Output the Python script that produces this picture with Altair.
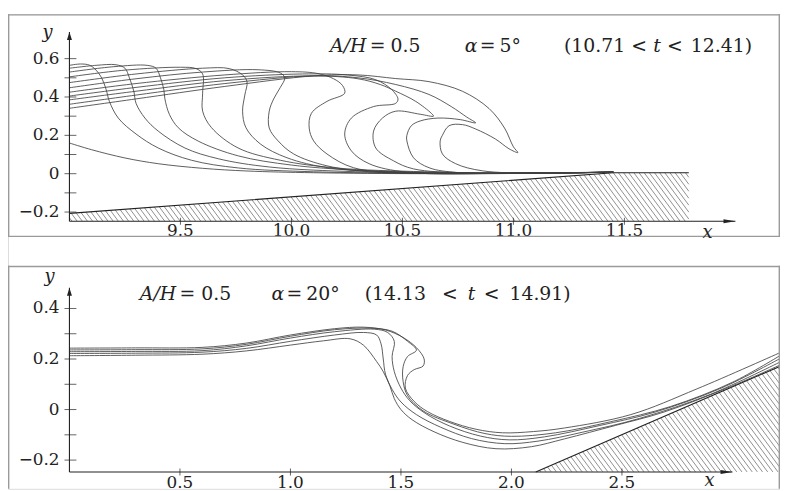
import altair as alt
import numpy as np
import pandas as pd

# ---------------- data: upper panel (alpha = 5 deg) ----------------
T0 = [(9.0,0.16),(9.1,0.125),(9.25,0.082),(9.4,0.052),(9.6,0.028),(9.8,0.014),(10.1,0.005),(10.6,0.0),(11.1,0.002),(11.45,0.008)]
T1 = [(9.0,0.565),(9.05,0.572),(9.09,0.566),(9.12,0.54),(9.145,0.5),(9.165,0.44),(9.18,0.377),(9.22,0.29),(9.3,0.207),(9.4,0.134),(9.55,0.07),(9.76,0.03),(10.1,0.01),(10.7,0.002),(11.45,0.008)]
T2 = [(9.0,0.55),(9.12,0.565),(9.21,0.568),(9.25,0.55),(9.27,0.5),(9.29,0.43),(9.3,0.367),(9.34,0.29),(9.4,0.222),(9.52,0.134),(9.67,0.078),(9.9,0.035),(10.3,0.01),(10.9,0.002),(11.45,0.008)]
T3 = [(9.0,0.53),(9.2,0.558),(9.35,0.565),(9.39,0.55),(9.41,0.5),(9.425,0.44),(9.43,0.39),(9.45,0.31),(9.49,0.24),(9.58,0.17),(9.76,0.093),(10.0,0.045),(10.3,0.018),(10.8,0.004),(11.45,0.008)]
T4 = [(9.0,0.505),(9.25,0.54),(9.5,0.555),(9.57,0.548),(9.6,0.52),(9.6,0.42),(9.6,0.326),(9.64,0.24),(9.76,0.134),(9.95,0.07),(10.2,0.03),(10.6,0.01),(11.0,0.003),(11.45,0.008)]
T5 = [(9.0,0.475),(9.3,0.52),(9.6,0.55),(9.72,0.548),(9.78,0.515),(9.8,0.48),(9.79,0.41),(9.78,0.326),(9.795,0.24),(9.86,0.155),(9.98,0.083),(10.17,0.03),(10.5,0.008),(11.0,0.002),(11.45,0.008)]
T6 = [(9.0,0.448),(9.3,0.495),(9.6,0.53),(9.85,0.542),(9.95,0.525),(9.97,0.5),(9.95,0.45),(9.92,0.39),(9.9,0.326),(9.9,0.238),(9.94,0.171),(10.01,0.103),(10.16,0.041),(10.38,0.008),(10.9,0.002),(11.45,0.008)]
T7 = [(9.0,0.425),(9.3,0.47),(9.7,0.515),(10.0,0.532),(10.12,0.522),(10.19,0.495),(10.23,0.46),(10.24,0.42),(10.16,0.377),(10.09,0.315),(10.08,0.238),(10.1,0.171),(10.16,0.103),(10.28,0.031),(10.52,0.004),(11.0,0.002),(11.45,0.008)]
T8 = [(9.0,0.405),(9.3,0.45),(9.7,0.5),(10.05,0.52),(10.25,0.515),(10.38,0.49),(10.45,0.44),(10.48,0.39),(10.47,0.367),(10.37,0.35),(10.27,0.29),(10.24,0.207),(10.27,0.119),(10.35,0.052),(10.52,0.008),(11.0,0.002),(11.45,0.008)]
T9 = [(9.0,0.385),(9.3,0.43),(9.7,0.485),(10.1,0.51),(10.3,0.495),(10.4,0.465),(10.47,0.43),(10.56,0.377),(10.63,0.315),(10.64,0.30),(10.58,0.31),(10.47,0.326),(10.41,0.29),(10.37,0.222),(10.38,0.134),(10.46,0.067),(10.55,0.025),(10.8,0.004),(11.45,0.008)]
T10 = [(9.0,0.362),(9.3,0.41),(9.7,0.47),(10.1,0.51),(10.3,0.5),(10.47,0.465),(10.62,0.413),(10.72,0.35),(10.79,0.295),(10.83,0.265),(10.76,0.282),(10.66,0.29),(10.58,0.275),(10.54,0.25),(10.52,0.2),(10.52,0.171),(10.55,0.083),(10.62,0.031),(10.75,0.006),(11.1,0.002),(11.45,0.008)]
T11 = [(9.0,0.341),(9.3,0.39),(9.7,0.455),(10.1,0.51),(10.3,0.515),(10.47,0.496),(10.62,0.48),(10.77,0.43),(10.89,0.34),(10.96,0.238),(11.0,0.14),(11.02,0.11),(10.98,0.13),(10.92,0.18),(10.83,0.233),(10.77,0.256),(10.71,0.25),(10.68,0.2),(10.67,0.171),(10.68,0.103),(10.74,0.052),(10.86,0.015),(11.1,0.003),(11.45,0.008)]
TOP_PROFILES = [T0, T1, T2, T3, T4, T5, T6, T7, T8, T9, T10, T11]
TOP_BED = [(9.0,-0.207),(11.45,0.005),(11.79,0.005)]

TOP_YTICKS = [-0.2,-0.1,0.0,0.1,0.2,0.3,0.4,0.5,0.6]
TOP_YLAB_V = [-0.2,0.0,0.2,0.4,0.6]
TOP_YLAB_T = ["−0.2","0","0.2","0.4","0.6"]
TOP_XLAB_V = [9.5,10.0,10.5,11.0,11.5]
TOP_XLAB_T = ["9.5","10.0","10.5","11.0","11.5"]

# ---------------- data: lower panel (alpha = 20 deg) ----------------
B1 = [(0,0.213),(0.3,0.215),(0.6,0.219),(0.8,0.232),(1.0,0.255),(1.15,0.272),(1.27,0.28),(1.33,0.255),(1.39,0.19),(1.42,0.15),(1.45,0.094),(1.47,0.043),(1.5,0.0),(1.55,-0.04),(1.65,-0.088),(1.78,-0.13),(1.93,-0.155),(2.09,-0.147),(2.24,-0.116),(2.47,-0.063),(2.69,-0.01),(2.99,0.09),(3.22,0.178)]
B2 = [(0,0.222),(0.3,0.223),(0.6,0.227),(0.8,0.242),(1.0,0.27),(1.2,0.295),(1.33,0.305),(1.39,0.295),(1.41,0.26),(1.42,0.2),(1.43,0.14),(1.46,0.08),(1.5,0.03),(1.57,-0.02),(1.68,-0.07),(1.82,-0.115),(1.97,-0.135),(2.12,-0.125),(2.32,-0.09),(2.58,-0.035),(2.9,0.06),(3.22,0.19)]
B3 = [(0,0.229),(0.3,0.23),(0.6,0.233),(0.8,0.252),(1.0,0.283),(1.2,0.308),(1.38,0.318),(1.44,0.305),(1.47,0.27),(1.46,0.21),(1.47,0.15),(1.5,0.085),(1.54,0.035),(1.61,-0.015),(1.72,-0.065),(1.86,-0.105),(1.99,-0.12),(2.15,-0.108),(2.4,-0.063),(2.65,-0.01),(2.95,0.085),(3.22,0.204)]
B4 = [(0,0.236),(0.3,0.237),(0.6,0.24),(0.8,0.258),(1.0,0.29),(1.2,0.316),(1.36,0.322),(1.46,0.31),(1.53,0.27),(1.57,0.235),(1.53,0.21),(1.51,0.17),(1.51,0.11),(1.53,0.055),(1.6,-0.005),(1.74,-0.058),(1.88,-0.095),(2.0,-0.106),(2.2,-0.092),(2.45,-0.048),(2.72,0.012),(3.0,0.108),(3.22,0.216)]
B5 = [(0,0.243),(0.3,0.244),(0.6,0.246),(0.8,0.263),(1.0,0.295),(1.2,0.32),(1.33,0.326),(1.43,0.315),(1.51,0.285),(1.57,0.245),(1.605,0.2),(1.6,0.172),(1.56,0.158),(1.53,0.135),(1.52,0.085),(1.56,0.032),(1.62,-0.008),(1.72,-0.047),(1.84,-0.078),(1.96,-0.092),(2.1,-0.087),(2.24,-0.073),(2.54,-0.02),(2.84,0.082),(3.22,0.227)]
BOT_PROFILES = [B1, B2, B3, B4, B5]
BOT_BED = [(2.11,-0.247),(3.22,0.173)]

BOT_YTICKS = [-0.2,-0.1,0.0,0.1,0.2,0.3,0.4]
BOT_YLAB_V = [-0.2,0.0,0.2,0.4]
BOT_YLAB_T = ["−0.2","0","0.2","0.4"]
BOT_XLAB_V = [0.5,1.0,1.5,2.0,2.5]
BOT_XLAB_T = ["0.5","1.0","1.5","2.0","2.5"]

# ---------------- layout ----------------
W, H = 779, 479
FONT = "DejaVu Serif"
INK = "#222222"

TOP = dict(xs=alt.Scale(domain=[9, 12], range=[62, 734], nice=False, zero=False),
           ys=alt.Scale(domain=[0, 0.6], range=[161, 44.9], nice=False, zero=False),
           sx=224.0, sy=193.5, x0=9.0, ybase=-0.248, ytip=0.739, xtip=12.0, xr=11.79)
BOT = dict(xs=alt.Scale(domain=[0, 3], range=[62, 731], nice=False, zero=False),
           ys=alt.Scale(domain=[0, 0.4], range=[399, 297], nice=False, zero=False),
           sx=223.0, sy=255.0, x0=0.0, ybase=-0.247, ytip=0.482, xtip=3.0, xr=3.215)


def profiles_df(profiles):
    rows = []
    for pid, pts in enumerate(profiles):
        for i, (x, y) in enumerate(pts):
            rows.append({"pid": pid, "i": i, "x": x, "y": y})
    return pd.DataFrame(rows)


def hatch_df(bed, base, xl, xr, sx, sy, step_px=5.2, slope_px=1.35):
    bx = np.array([p[0] for p in bed])
    by = np.array([p[1] for p in bed])
    k = slope_px * sx / sy
    d = step_px / sx
    xs = np.linspace(xl, xr, 4000)
    top = np.interp(xs, bx, by)
    rows = []
    xb = xl + d / 2
    xmax = xr + (by.max() - base) / k
    while xb < xmax:
        yl = base - k * (xs - xb)
        inside = (yl >= base - 1e-9) & (yl <= top) & (xs >= bx[0])
        idx = np.nonzero(inside)[0]
        if len(idx) > 1:
            a, b = idx[0], idx[-1]
            rows.append({"x": xs[a], "y": yl[a], "x2": xs[b], "y2": yl[b]})
        xb += d
    return pd.DataFrame(rows)


UP = "M0,0L-0.5,1.6L0.5,1.6Z"
RIGHT = "M0,0L-2.4,-0.4L-2.4,0.4Z"


def panel(P, profiles, bed, ytick_vals, ylab_v, ylab_t, xlab_v, xlab_t, xlab_dy):
    xs, ys = P["xs"], P["ys"]
    X = lambda f: alt.X(f, scale=xs, axis=None)
    Y = lambda f: alt.Y(f, scale=ys, axis=None)

    waves = alt.Chart(profiles_df(profiles)).mark_line(
        color="#404040", strokeWidth=0.85, interpolate="catmull-rom", clip=True
    ).encode(x=X("x:Q"), y=Y("y:Q"), detail="pid:N", order="i:Q")

    hd = hatch_df(bed, P["ybase"], P["x0"], P["xr"], P["sx"], P["sy"])
    hatch = alt.Chart(hd).mark_rule(color="#606060", strokeWidth=0.7, clip=True).encode(
        x=X("x:Q"), y=Y("y:Q"), x2="x2:Q", y2="y2:Q")

    bed_df = pd.DataFrame({"x": [p[0] for p in bed], "y": [p[1] for p in bed]})
    bedline = alt.Chart(bed_df).mark_line(color=INK, strokeWidth=1.1, clip=True).encode(
        x=X("x:Q"), y=Y("y:Q"))

    yaxis = alt.Chart(pd.DataFrame({"x": [P["x0"]], "y": [P["ybase"]], "y2": [P["ytip"]]})).mark_rule(
        color=INK, strokeWidth=1.1).encode(x=X("x:Q"), y=Y("y:Q"), y2="y2:Q")
    xaxis = alt.Chart(pd.DataFrame({"x": [P["x0"]], "x2": [P["xtip"]], "y": [P["ybase"]]})).mark_rule(
        color=INK, strokeWidth=1.1).encode(x=X("x:Q"), x2="x2:Q", y=Y("y:Q"))
    uparrow = alt.Chart(pd.DataFrame({"x": [P["x0"]], "y": [P["ytip"]]})).mark_point(
        shape=UP, filled=True, size=100, color=INK, opacity=1).encode(x=X("x:Q"), y=Y("y:Q"))
    rarrow = alt.Chart(pd.DataFrame({"x": [P["xtip"]], "y": [P["ybase"]]})).mark_point(
        shape=RIGHT, filled=True, size=100, color=INK, opacity=1).encode(x=X("x:Q"), y=Y("y:Q"))

    ytk = pd.DataFrame({"x": [P["x0"]] * len(ytick_vals), "y": ytick_vals})
    yticks = alt.Chart(ytk).mark_tick(orient="horizontal", size=12, thickness=1, color=INK, xOffset=1).encode(
        x=X("x:Q"), y=Y("y:Q"))
    ylb = pd.DataFrame({"x": [P["x0"]] * len(ylab_v), "y": ylab_v, "t": ylab_t})
    ylabels = alt.Chart(ylb).mark_text(align="right", baseline="middle", dx=-10, font=FONT,
                                       fontSize=17, color=INK).encode(x=X("x:Q"), y=Y("y:Q"), text="t:N")
    xtk = pd.DataFrame({"x": xlab_v, "y": [P["ybase"]] * len(xlab_v), "t": xlab_t})
    xticks = alt.Chart(xtk).mark_tick(orient="vertical", size=7, thickness=1, color=INK).encode(
        x=X("x:Q"), y=Y("y:Q"))
    xlabels = alt.Chart(xtk).mark_text(align="center", baseline="middle", dy=xlab_dy, font=FONT,
                                       fontSize=17, color=INK).encode(x=X("x:Q"), y=Y("y:Q"), text="t:N")
    return alt.layer(hatch, bedline, waves, yaxis, xaxis, uparrow, rarrow, yticks, ylabels, xticks, xlabels)


def token(t, px, py, italic=False, size=19, align="left"):
    return alt.Chart(pd.DataFrame({"t": [t]})).mark_text(
        align=align, baseline="alphabetic", font=FONT, fontSize=size, color=INK,
        fontStyle="italic" if italic else "normal"
    ).encode(x=alt.value(px - 8), y=alt.value(py - 12), text="t:N")


def rule(x1, y1, x2, y2):
    return alt.Chart(pd.DataFrame({"a": [0]})).mark_rule(color="#9a9a9a", strokeWidth=1.4).encode(
        x=alt.value(x1), y=alt.value(y1), x2=alt.value(x2), y2=alt.value(y2))


top_panel = panel(TOP, TOP_PROFILES, TOP_BED, TOP_YTICKS, TOP_YLAB_V, TOP_YLAB_T, TOP_XLAB_V, TOP_XLAB_T, 10)
bot_panel = panel(BOT, BOT_PROFILES, BOT_BED, BOT_YTICKS, BOT_YLAB_V, BOT_YLAB_T, BOT_XLAB_V, BOT_XLAB_T, 11)

texts = [
    # upper title (left edges)
    token("A/H", 333, 50, True), token("=", 373, 50), token("0.5", 394, 50),
    token("α", 469, 50, True), token("=", 484, 50), token("5°", 504, 50),
    token("(10.71", 569, 50), token("<", 637, 50), token("t", 659, 50, True),
    token("<", 673, 50), token("12.41)", 697, 50),
    token("y", 48, 36, True, 18, "center"), token("x", 714, 238, True, 18, "center"),
    # lower title
    token("A/H", 141, 300, True), token("=", 181, 300), token("0.5", 203, 300),
    token("α", 274, 300, True), token("=", 289, 300), token("20°", 309, 300),
    token("(14.13", 368, 300), token("<", 446, 300), token("t", 472, 300, True),
    token("<", 488, 300), token("14.91)", 514, 300),
    token("y", 50, 282, True, 18, "center"), token("x", 716, 488, True, 18, "center"),
]

frames = [
    rule(0, 0.7, W, 0.7), rule(0, 224.3, W, 224.3), rule(0.7, 0, 0.7, 225), rule(W - 0.7, 0, W - 0.7, 225),
    rule(0, 254.7, W, 254.7), rule(0.7, 254, 0.7, H), rule(W - 0.7, 254, W - 0.7, H),
]

chart = alt.layer(top_panel, bot_panel, *frames, *texts).resolve_scale(
    x="independent", y="independent"
).properties(
    width=W, height=H,
    autosize=alt.AutoSizeParams(type="none"),
    padding={"left": 0, "top": 4, "right": 0, "bottom": 0},
).configure_view(stroke=None).configure(background="white")

chart.save("out.html", embed_options={"renderer": "svg", "actions": False})
